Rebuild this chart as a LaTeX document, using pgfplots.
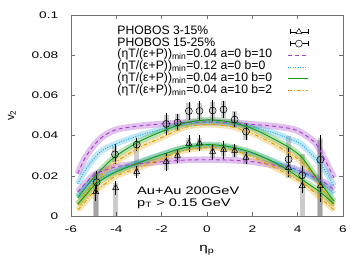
\documentclass[border=0pt]{standalone}
\usepackage{fontspec}
\setmainfont{Liberation Sans}
\usepackage{pgfplots}
\pgfplotsset{compat=1.18}
\usepackage{pgfplotstable}
\definecolor{cpur}{HTML}{A33FC8}
\definecolor{ccya}{HTML}{1FA8DC}
\definecolor{cgre}{HTML}{109A10}
\definecolor{cora}{HTML}{E0A000}
\definecolor{axgray}{HTML}{707070}

\pgfplotstableread{
x y
-5.7 0.021
-5.4 0.0285
-5.0 0.035
-4.6 0.0395
-4.0 0.043
-3.0 0.0448
-2.0 0.0458
-1.0 0.0465
0.0 0.0468
1.0 0.0465
2.0 0.0456
3.0 0.0446
3.8 0.0432
4.3 0.0405
4.8 0.036
5.2 0.028
5.6 0.019
}\purU
\pgfplotstableread{
x y
-5.7 0.016
-5.3 0.024
-4.7 0.032
-4.0 0.036
-3.0 0.040
-2.0 0.0432
-1.0 0.0455
0.0 0.0465
1.0 0.0458
2.0 0.0442
3.0 0.0412
3.6 0.0385
4.1 0.0362
4.5 0.032
5.0 0.026
5.3 0.021
5.6 0.015
}\cyaU
\pgfplotstableread{
x y
-5.7 0.009
-5.3 0.015
-5.0 0.019
-4.5 0.025
-4.0 0.030
-3.0 0.037
-2.0 0.0420
-1.0 0.0462
0.0 0.0478
1.0 0.0468
2.0 0.0435
3.0 0.038
3.7 0.0335
4.2 0.029
4.7 0.021
5.1 0.015
5.6 0.0075
}\greU
\pgfplotstableread{
x y
-5.7 0.0055
-5.3 0.012
-5.0 0.016
-4.5 0.022
-4.0 0.027
-3.0 0.034
-2.0 0.039
-1.0 0.0440
0.0 0.0455
1.0 0.0446
2.0 0.041
3.0 0.0355
4.0 0.0285
4.5 0.023
5.0 0.015
5.3 0.010
5.6 0.005
}\oraU
\pgfplotstableread{
x y
-5.7 0.012
-5.3 0.017
-4.9 0.021
-4.0 0.0245
-3.0 0.026
-2.0 0.027
-1.0 0.0278
0.0 0.028
1.0 0.0278
2.0 0.027
3.0 0.0252
3.7 0.024
4.2 0.022
4.8 0.019
5.2 0.0165
5.6 0.013
}\purL
\pgfplotstableread{
x y
-5.7 0.010
-5.2 0.016
-4.5 0.020
-4.0 0.0225
-3.0 0.0268
-2.0 0.0305
-1.0 0.0338
0.0 0.0350
1.0 0.0340
2.0 0.0310
3.0 0.027
4.0 0.0225
4.5 0.020
5.0 0.017
5.3 0.0145
5.6 0.011
}\cyaL
\pgfplotstableread{
x y
-5.7 0.006
-5.3 0.011
-5.0 0.015
-4.5 0.019
-4.0 0.022
-3.0 0.0265
-2.0 0.0305
-1.0 0.0340
0.0 0.0355
1.0 0.0345
2.0 0.0315
3.0 0.0265
3.7 0.022
4.2 0.018
4.8 0.0135
5.2 0.010
5.6 0.006
}\greL
\pgfplotstableread{
x y
-5.7 0.003
-5.3 0.008
-5.0 0.012
-4.5 0.016
-4.0 0.020
-3.0 0.024
-2.0 0.0285
-1.0 0.0325
0.0 0.0340
1.0 0.0332
2.0 0.0295
3.0 0.024
4.0 0.018
4.5 0.014
5.0 0.009
5.3 0.006
5.6 0.003
}\oraL
\pgfplotstableread{
x y e
-4.91 0.0120 0.003
-4.03 0.0140 0.002
-3.10 0.0220 0.0015
-1.80 0.0270 0.003
-1.30 0.0300 0.002
-0.80 0.0360 0.003
-0.33 0.0362 0.0025
0.25 0.0320 0.0025
0.73 0.0330 0.003
1.22 0.0325 0.002
1.72 0.0290 0.0015
3.60 0.0240 0.003
4.20 0.0150 0.002
5.00 0.0150 0.0065
}\triData
\pgfplotstableread{
x y e
-4.87 0.0168 0.004
-4.06 0.0307 0.0035
-3.10 0.0355 0.002
-1.80 0.0458 0.004
-1.30 0.0465 0.003
-0.80 0.0522 0.003
-0.33 0.0523 0.0035
0.25 0.0525 0.004
0.73 0.0530 0.003
1.22 0.0480 0.0025
1.72 0.0420 0.003
3.60 0.0282 0.004
4.20 0.0203 0.003
5.00 0.0280 0.011
}\cirData
\pgfplotstableread{
x y e
-4.92 0.0107 0.0107
-4.87 0.0110 0.0110
-4.03 0.0083 0.0083
-4.06 0.0310 0.0040
-3.10 0.0285 0.0085
-1.80 0.0270 0.0040
-1.80 0.0458 0.0045
-1.30 0.0300 0.0030
-1.30 0.0465 0.0040
-0.80 0.0358 0.0030
-0.80 0.0522 0.0040
-0.33 0.0360 0.0030
-0.33 0.0523 0.0040
0.25 0.0320 0.0030
0.25 0.0525 0.0040
0.73 0.0330 0.0030
0.73 0.0530 0.0040
1.22 0.0325 0.0030
1.22 0.0480 0.0040
1.72 0.0290 0.0030
1.72 0.0420 0.0040
3.60 0.0295 0.0105
4.20 0.0155 0.0155
4.98 0.0190 0.0190
5.02 0.0195 0.0195
}\sysData

\begin{document}
\begin{tikzpicture}[font=\fontsize{10.7bp}{12.8bp}\selectfont]
\useasboundingbox (-71bp,-57bp) rectangle (292bp,216bp);
\begin{axis}[
  at={(0,0)}, anchor=south west,
  scale only axis, width=272bp, height=201bp,
  xmin=-6, xmax=6, ymin=0, ymax=0.1,
  xtick={-6,-4,-2,0,2,4,6},
  xticklabels={-6,-4,-2,0,2,4,6},
  ytick={0,0.02,0.04,0.06,0.08,0.1},
  yticklabels={0,0.02,0.04,0.06,0.08,0.1},
  tick align=inside, xtick pos=both, ytick pos=both,
  major tick length=4bp,
  axis line style={axgray, line width=0.6bp},
  tick style={axgray, line width=0.6bp},
  ticklabel style={font=\fontsize{9.6bp}{11bp}\selectfont, xscale=1.42, transform shape},
  yticklabel style={xshift=-5.5bp},
  xticklabel style={yshift=-6bp},
  every axis x label/.style={at={(axis description cs:0.5,0)}, yshift=-34bp, anchor=center, font=\fontsize{11.5bp}{13bp}\selectfont, xscale=1.33, transform shape},
  every axis y label/.style={at={(axis description cs:0,0.5)}, xshift=-59bp, anchor=center, rotate=90, font=\fontsize{11.5bp}{13bp}\selectfont},
  xlabel={η\textsubscript{p}},
  ylabel={v\textsubscript{2}},
  legend cell align=left,
  legend plot pos=right,
  legend style={at={(rel axis cs:0.170,0.945)}, anchor=north west, draw=none, fill=none,
    inner sep=0pt, outer sep=0pt, /tikz/column sep=15bp,
    font=\fontsize{12.2bp}{14bp}\selectfont,
    nodes={inner sep=0.25bp, text height=8.2bp, text depth=3bp}},
  legend image code/.code={\draw[#1] (0bp,0bp) -- (20bp,0bp);},
]
% systematic bars
\addplot[draw=none, mark=none, forget plot,
  error bars/.cd, y dir=both, y explicit, error mark=none,
  error bar style={draw=black, draw opacity=0.2, line width=5bp}]
  table[x=x, y=y, y error=e] {\sysData};
% bands
\addplot[forget plot, smooth, line width=6.5bp, cpur, opacity=0.32] table {\purU};
\addplot[forget plot, smooth, line width=6bp, ccya, opacity=0.28] table {\cyaU};
\addplot[forget plot, smooth, line width=6bp, cgre, opacity=0.28] table {\greU};
\addplot[forget plot, smooth, line width=6bp, cora, opacity=0.28] table {\oraU};
\addplot[forget plot, smooth, line width=6.5bp, cpur, opacity=0.32] table {\purL};
\addplot[forget plot, smooth, line width=6bp, ccya, opacity=0.28] table {\cyaL};
\addplot[forget plot, smooth, line width=6bp, cgre, opacity=0.28] table {\greL};
\addplot[forget plot, smooth, line width=6bp, cora, opacity=0.28] table {\oraL};
% data
\addplot[only marks, black, mark=triangle, mark size=3.5bp, mark options={black, line width=0.5bp},
  error bars/.cd, y dir=both, y explicit, error mark options={black, mark size=2.8bp, line width=0.5bp},
  error bar style={black, line width=0.5bp},
  /pgfplots/legend image code/.code={\draw[black, line width=0.5bp] (2bp,0bp)--(20bp,0bp) (2bp,-2.5bp)--(2bp,2.5bp) (20bp,-2.5bp)--(20bp,2.5bp);
     \draw[black, line width=0.5bp, mark=triangle*, mark size=3.5bp, mark options={fill=white}] plot coordinates {(11bp,0bp)};}]
  table[x=x, y=y, y error=e] {\triData};
\addlegendentry{PHOBOS 3-15\%}
\addplot[only marks, black, mark=o, mark size=3.5bp, mark options={black, line width=0.5bp},
  error bars/.cd, y dir=both, y explicit, error mark options={black, mark size=2.8bp, line width=0.5bp},
  error bar style={black, line width=0.5bp},
  /pgfplots/legend image code/.code={\draw[black, line width=0.5bp] (2bp,0bp)--(20bp,0bp) (2bp,-2.5bp)--(2bp,2.5bp) (20bp,-2.5bp)--(20bp,2.5bp);
     \draw[black, line width=0.5bp, mark=*, mark size=3.5bp, mark options={fill=white}] plot coordinates {(11bp,0bp)};}]
  table[x=x, y=y, y error=e] {\cirData};
\addlegendentry{PHOBOS 15-25\%}
% lines
\addplot[smooth, cpur, line width=0.9bp, dash pattern=on 4bp off 3bp] table {\purU};
\addlegendentry{(ηT/(ε+P))\textsubscript{min}=0.04 a=0 b=10}
\addplot[smooth, ccya, line width=0.9bp, dash pattern=on 1bp off 1.5bp] table {\cyaU};
\addlegendentry{(ηT/(ε+P))\textsubscript{min}=0.12 a=0 b=0}
\addplot[smooth, cgre, line width=0.9bp] table {\greU};
\addlegendentry{(ηT/(ε+P))\textsubscript{min}=0.04 a=10 b=0}
\addplot[smooth, cora, line width=1bp, dash pattern=on 4bp off 2bp on 1bp off 2bp] table {\oraU};
\addlegendentry{(ηT/(ε+P))\textsubscript{min}=0.04 a=10 b=2}
\addplot[forget plot, smooth, cpur, line width=0.9bp, dash pattern=on 4bp off 3bp] table {\purL};
\addplot[forget plot, smooth, ccya, line width=0.9bp, dash pattern=on 1bp off 1.5bp] table {\cyaL};
\addplot[forget plot, smooth, cgre, line width=0.9bp] table {\greL};
\addplot[forget plot, smooth, cora, line width=1bp, dash pattern=on 4bp off 2bp on 1bp off 2bp] table {\oraL};
\node[anchor=west, inner sep=0pt, font=\fontsize{11bp}{13bp}\selectfont, xscale=1.33, transform shape] at (axis cs:-3.09,0.0124) {Au+Au 200GeV};
\node[anchor=west, inner sep=0pt, font=\fontsize{11bp}{13bp}\selectfont, xscale=1.33, transform shape] at (axis cs:-3.09,0.0063) {p\textsubscript{T} > 0.15 GeV};
\end{axis}
\end{tikzpicture}
\end{document}
